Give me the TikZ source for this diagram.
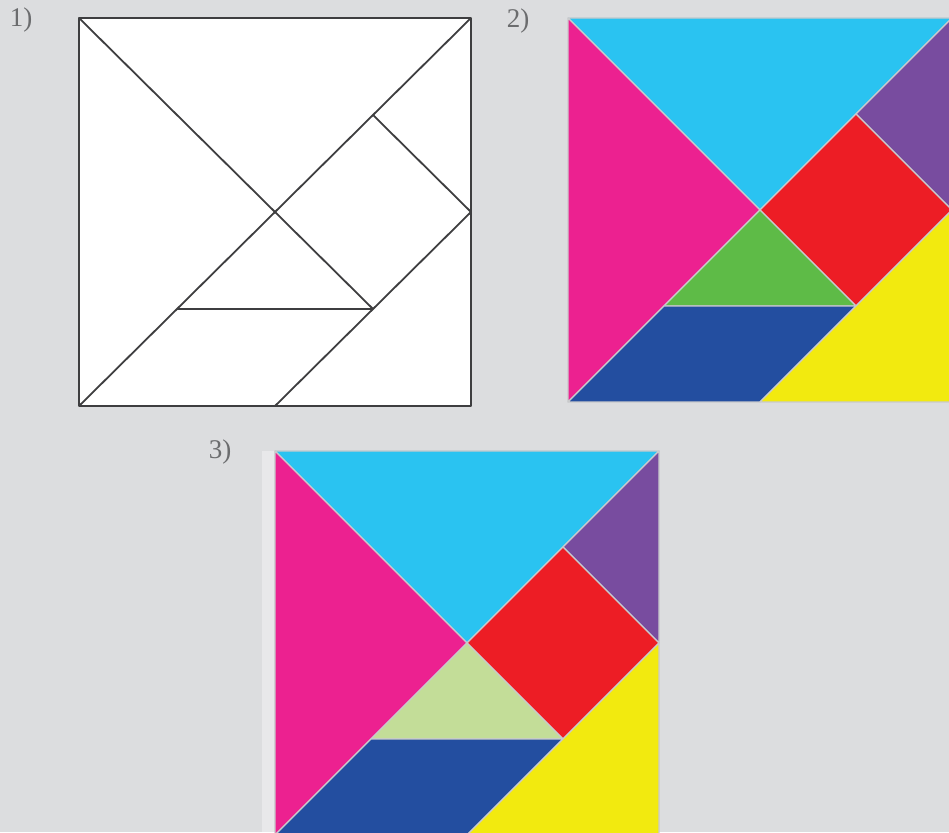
\documentclass[tikz,border=0pt]{standalone}
\usepackage{fontspec}
\setmainfont{Liberation Serif}
\definecolor{bggray}{HTML}{DCDDDF}
\definecolor{labelgray}{HTML}{6B6C6E}
\definecolor{linegray}{HTML}{3E3E40}
\definecolor{seamgray}{HTML}{C9CACC}
\definecolor{tancyan}{HTML}{2AC3F1}
\definecolor{tanmagenta}{HTML}{EC2190}
\definecolor{tanpurple}{HTML}{784C9F}
\definecolor{tanred}{HTML}{ED1D25}
\definecolor{tangreen}{HTML}{5EBB47}
\definecolor{tanpale}{HTML}{C3DD98}
\definecolor{tanblue}{HTML}{234EA0}
\definecolor{tanyellow}{HTML}{F2EA0F}

\begin{document}
\begin{tikzpicture}[
  x=1pt, y=1pt,
  lbl/.style={text=labelgray, font=\fontsize{27}{30}\selectfont, inner sep=0pt},
  outline/.style={draw=linegray, line width=1.8pt, line join=round},
  piece/.style={draw=seamgray, line width=1.1pt, line join=round}
]
  \clip (0,0) rectangle (949,832);
  \fill[bggray] (0,0) rectangle (949,832);

  \node[lbl] (lab1) at (21,812) {1)};
  \node[lbl] (lab2) at (518,811) {2)};
  \node[lbl] (lab3) at (220,380) {3)};

  \begin{scope}[shift={(79,426)}, x=98pt, y=97pt]
    \draw[outline, fill=white] (0,0) rectangle (4,4);
    \draw[outline] (0,4) -- (2,2);
    \draw[outline] (0,0) -- (4,4);
    \draw[outline] (3,3) -- (4,2) -- (2,0);
    \draw[outline] (2,2) -- (3,1);
    \draw[outline] (1,1) -- (3,1);
  \end{scope}

  \begin{scope}[shift={(568,430)}, x=96pt, y=96pt]
    \filldraw[piece, fill=tancyan] (0,4) -- (4,4) -- (2,2) -- cycle;
    \filldraw[piece, fill=tanmagenta] (0,4) -- (2,2) -- (0,0) -- cycle;
    \filldraw[piece, fill=tanpurple] (4,4) -- (4,2) -- (3,3) -- cycle;
    \filldraw[piece, fill=tanred] (2,2) -- (3,3) -- (4,2) -- (3,1) -- cycle;
    \filldraw[piece, fill=tangreen] (1,1) -- (2,2) -- (3,1) -- cycle;
    \filldraw[piece, fill=tanblue] (0,0) -- (2,0) -- (3,1) -- (1,1) -- cycle;
    \filldraw[piece, fill=tanyellow] (2,0) -- (4,0) -- (4,2) -- cycle;
  \end{scope}

  \fill[white, opacity=0.35] (262,-3) rectangle (274,381);
  \begin{scope}[shift={(275,-3)}, x=96pt, y=96pt]
    \filldraw[piece, fill=tancyan] (0,4) -- (4,4) -- (2,2) -- cycle;
    \filldraw[piece, fill=tanmagenta] (0,4) -- (2,2) -- (0,0) -- cycle;
    \filldraw[piece, fill=tanpurple] (4,4) -- (4,2) -- (3,3) -- cycle;
    \filldraw[piece, fill=tanred] (2,2) -- (3,3) -- (4,2) -- (3,1) -- cycle;
    \filldraw[piece, fill=tanpale] (1,1) -- (2,2) -- (3,1) -- cycle;
    \filldraw[piece, fill=tanblue] (0,0) -- (2,0) -- (3,1) -- (1,1) -- cycle;
    \filldraw[piece, fill=tanyellow] (2,0) -- (4,0) -- (4,2) -- cycle;
  \end{scope}
\end{tikzpicture}
\end{document}
